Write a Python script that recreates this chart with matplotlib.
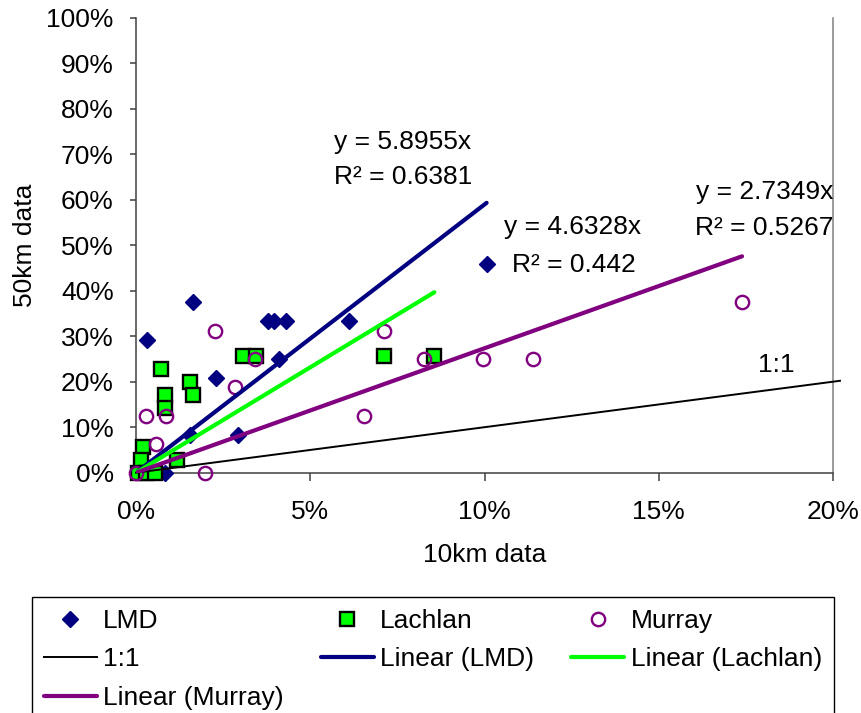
## for plotting
import matplotlib
matplotlib.use("Agg")
import matplotlib.pyplot as plt
from matplotlib.ticker import PercentFormatter

plt.rcParams['font.family'] = ['Liberation Sans', 'DejaVu Sans']

## data (fractions, 10km vs 50km)
lmd_x = [0.0032, 0.0164, 0.0229, 0.0380, 0.0397, 0.0430, 0.0410, 0.0611, 0.1006, 0.0155, 0.0293, 0.0083]
lmd_y = [0.292, 0.375, 0.208, 0.333, 0.333, 0.333, 0.250, 0.333, 0.458, 0.083, 0.083, 0.0]

lachlan_x = [0.0071, 0.0155, 0.0164, 0.0083, 0.0083, 0.0308, 0.0344, 0.0712, 0.0856,
             0.0020, 0.0014, 0.0117, 0.0006, 0.0030, 0.0054]
lachlan_y = [0.229, 0.200, 0.171, 0.171, 0.143, 0.257, 0.257, 0.257, 0.257,
             0.057, 0.029, 0.029, 0.0, 0.0, 0.0]

murray_x = [0.1739, 0.1140, 0.0996, 0.0826, 0.0711, 0.0655, 0.0227, 0.0341, 0.0284,
            0.0028, 0.0085, 0.0057, 0.0198, 0.0]
murray_y = [0.375, 0.25, 0.25, 0.25, 0.3125, 0.125, 0.3125, 0.25, 0.1875,
            0.125, 0.125, 0.0625, 0.0, 0.0]

## trendline slopes (through origin) and R^2 from the chart labels
slopes = {"LMD": 5.8955, "Lachlan": 4.6328, "Murray": 2.7349}
r2 = {"LMD": "0.6381", "Lachlan": "0.442", "Murray": "0.5267"}
one_to_one = [0.0, 0.202]

navy = "#000080"
green = "#00FF00"
purple = "#800080"
FS = 19

fig = plt.figure(figsize=(8.62, 7.13), dpi=100)
ax = fig.add_axes([136/862, 1 - 472.7/713, (833 - 136)/862, (472.7 - 17.7)/713])

## scatter series
p_lmd, = ax.plot(lmd_x, lmd_y, 'D', color=navy, markersize=8, linestyle='none', zorder=3, clip_on=False)
p_lach, = ax.plot(lachlan_x, lachlan_y, 's', markerfacecolor=green, markeredgecolor='black',
                  markersize=9.8, markeredgewidth=1.7, linestyle='none', zorder=3, clip_on=False)
p_mur, = ax.plot(murray_x, murray_y, 'o', markerfacecolor='none', markeredgecolor=purple,
                 markersize=9.6, markeredgewidth=1.7, linestyle='none', zorder=3, clip_on=False)

## 1:1 line and trendlines
l_11, = ax.plot(one_to_one, one_to_one, color='black', lw=1.4, zorder=4, clip_on=False)
l_lmd, = ax.plot([0, max(lmd_x)], [0, slopes["LMD"]*max(lmd_x)], color=navy, lw=3,
                 solid_capstyle='round', zorder=4)
l_lach, = ax.plot([0, max(lachlan_x)], [0, slopes["Lachlan"]*max(lachlan_x)], color=green, lw=3,
                  solid_capstyle='round', zorder=4)
l_mur, = ax.plot([0, max(murray_x)], [0, slopes["Murray"]*max(murray_x)], color=purple, lw=3,
                 solid_capstyle='round', zorder=4)

## equation labels
ax.text(0.0766, 0.727, "y = %.4fx" % slopes["LMD"], ha='center', va='center', fontsize=FS)
ax.text(0.0766, 0.650, "R² = " + r2["LMD"], ha='center', va='center', fontsize=FS)
ax.text(0.1254, 0.5407, "y = %.4fx" % slopes["Lachlan"], ha='center', va='center', fontsize=FS)
ax.text(0.1256, 0.4565, "R² = " + r2["Lachlan"], ha='center', va='center', fontsize=FS)
ax.text(0.1804, 0.6176, "y = %.4fx" % slopes["Murray"], ha='center', va='center', fontsize=FS)
ax.text(0.1804, 0.5378, "R² = " + r2["Murray"], ha='center', va='center', fontsize=FS)
ax.text(0.1836, 0.2367, "1:1", ha='center', va='center', fontsize=FS)

## axis formatting
ax.set_xlim(0, 0.20)
ax.set_ylim(0, 1.0)
ax.set_xticks([0, 0.05, 0.10, 0.15, 0.20])
ax.set_yticks([i/10 for i in range(11)])
ax.xaxis.set_major_formatter(PercentFormatter(1.0, decimals=0))
ax.yaxis.set_major_formatter(PercentFormatter(1.0, decimals=0))
ax.tick_params(axis='both', labelsize=FS, colors='#404040', labelcolor='black', width=1.1)
ax.tick_params(axis='y', length=4, pad=12)
ax.tick_params(axis='x', length=5.5, pad=14)
ax.spines['top'].set_visible(False)
ax.spines['left'].set_color('#404040')
ax.spines['bottom'].set_color('#404040')
ax.spines['right'].set_color('#808080')
for s in ['left', 'bottom', 'right']:
    ax.spines[s].set_linewidth(1.1)
ax.set_xlabel("10km data", fontsize=FS)
ax.set_ylabel("50km data", fontsize=FS)
ax.xaxis.set_label_coords(0.5, -(543 - 472.7)/455)
ax.yaxis.set_label_coords(-(136 - 37)/697, 0.5)

## legend, row-major order as in the original
handles = [p_lmd, l_11, l_mur, p_lach, l_lmd, p_mur, l_lach]
labels = ["LMD", "1:1", "Linear (Murray)", "Lachlan", "Linear (LMD)", "Murray", "Linear (Lachlan)"]
leg = fig.legend(handles, labels, loc='upper left', bbox_to_anchor=(32/862, 1 - 597/713),
                 ncol=3, fontsize=FS, frameon=True, fancybox=False, framealpha=1,
                 edgecolor='black', borderaxespad=0, borderpad=0.45, handlelength=2.0,
                 handletextpad=0.25, columnspacing=1.4, labelspacing=0.55)
leg.get_frame().set_linewidth(1.0)

fig.savefig("out.png", dpi=100)
